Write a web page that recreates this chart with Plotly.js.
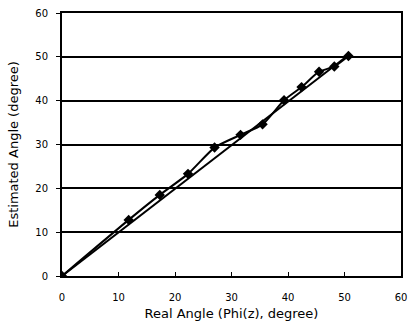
<!DOCTYPE html>
<html><head><meta charset="utf-8">
<script src="https://cdn.plot.ly/plotly-3.0.1.min.js"></script>
<style>html,body{margin:0;padding:0;background:#fff;}#chart{width:414px;height:330px;}</style>
</head><body><div id="chart"></div>
<script>
const realAngle = [0, 11.8, 17.3, 22.3, 27.0, 31.6, 35.5, 39.3, 42.4, 45.5, 48.2, 50.7];
const estAngle  = [0, 12.8, 18.5, 23.3, 29.3, 32.2, 34.6, 40.1, 43.1, 46.6, 47.8, 50.2];
const idealX = [0, 50.7];
const idealY = [0, 50.4];

const traces = [
  {x: idealX, y: idealY, mode: 'lines', line: {color: '#000', width: 2}, hoverinfo: 'skip'},
  {x: realAngle, y: estAngle, mode: 'lines+markers', line: {color: '#000', width: 2, shape: 'spline', smoothing: 0.6},
   marker: {symbol: 'diamond', size: 8, color: '#000'}}
];
const layout = {
  width: 414, height: 330,
  margin: {l: 62, r: 13, t: 13, b: 54},
  paper_bgcolor: '#fff', plot_bgcolor: '#fff',
  showlegend: false,
  font: {family: 'DejaVu Sans, Verdana, sans-serif', color: '#000', size: 10},
  xaxis: {range: [0, 60], dtick: 10, tick0: 0, showgrid: false, zeroline: false,
    showline: true, linecolor: '#000', linewidth: 2, mirror: true,
    ticks: 'inside', ticklen: 4, tickcolor: '#000', ticklabelstandoff: 11,
    title: {text: 'Real Angle (Phi(z), degree)', font: {size: 13}, standoff: 7}},
  yaxis: {range: [0, 60], dtick: 10, tick0: 0, showgrid: true, gridcolor: '#000', gridwidth: 2, zeroline: false,
    showline: true, linecolor: '#000', linewidth: 2, mirror: true,
    ticks: 'outside', ticklen: 4, tickcolor: '#000', ticklabelstandoff: 6,
    title: {text: 'Estimated Angle (degree)', font: {size: 13}, standoff: 14}}
};
Plotly.newPlot('chart', traces, layout, {displayModeBar: false, staticPlot: true});
</script></body></html>
